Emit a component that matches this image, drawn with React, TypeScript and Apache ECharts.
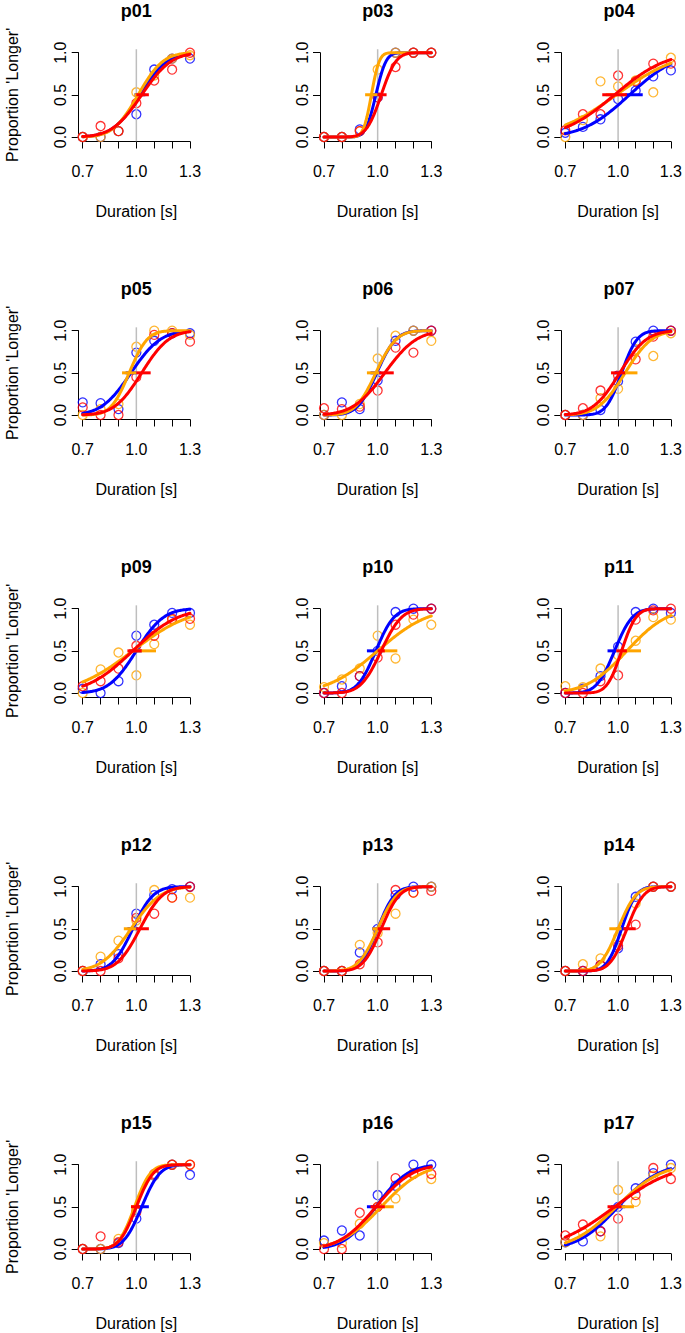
import React, { useEffect, useRef } from "react";
import * as echarts from "echarts";

// ---------- data ----------
const participants = ["p01", "p03", "p04", "p05", "p06", "p07", "p09", "p10", "p11", "p12", "p13", "p14", "p15", "p16", "p17"];
const durations = [0.7, 0.8, 0.9, 1.0, 1.1, 1.2, 1.3];
const xTickLabels = ["0.7", "1.0", "1.3"];
const yTickLabels = ["0.0", "0.5", "1.0"];
const referenceDuration = 1.0;
const xAxisTitle = "Duration [s]";
const yAxisTitle = "Proportion 'Longer'";

// observed proportions "longer" at each duration
const blueProps = [
  [0, 0, 0.07, 0.27, 0.8, 0.93, 0.93],
  [0, 0, 0.09, 0.47, 1, 1, 1],
  [0.05, 0.12, 0.21, 0.45, 0.55, 0.72, 0.79],
  [0.15, 0.14, 0.07, 0.74, 0.88, 0.97, 0.97],
  [0, 0.15, 0.07, 0.41, 0.88, 1, 1],
  [0, 0, 0.06, 0.4, 0.87, 1, 1],
  [0.05, 0, 0.14, 0.68, 0.81, 0.95, 0.95],
  [0, 0.08, 0.2, 0.5, 0.96, 1, 1],
  [0, 0.05, 0.2, 0.55, 0.96, 1, 0.95],
  [0, 0.08, 0.2, 0.68, 0.9, 0.97, 1],
  [0, 0, 0.22, 0.5, 0.9, 1, 1],
  [0, 0, 0.07, 0.27, 0.88, 1, 1],
  [0, 0, 0.07, 0.36, 0.87, 1, 0.88],
  [0.1, 0.22, 0.16, 0.64, 0.75, 1, 1],
  [0.08, 0.09, 0.21, 0.5, 0.72, 0.9, 1],
];
const orangeProps = [
  [0, 0, 0.07, 0.53, 0.73, 0.93, 0.97],
  [0, 0, 0.07, 0.8, 1, 1, 1],
  [0, 0.2, 0.66, 0.6, 0.67, 0.53, 0.94],
  [0, 0.07, 0.13, 0.81, 1, 1, 0.95],
  [0, 0, 0.13, 0.67, 0.94, 1, 0.88],
  [0, 0, 0.2, 0.31, 0.78, 0.7, 0.97],
  [0, 0.28, 0.48, 0.21, 0.58, 0.87, 0.81],
  [0.07, 0.16, 0.29, 0.68, 0.41, 0.87, 0.81],
  [0.08, 0.07, 0.29, 0.45, 0.62, 0.9, 0.87],
  [0, 0.17, 0.36, 0.6, 0.96, 0.87, 0.87],
  [0, 0, 0.31, 0.45, 0.68, 0.93, 1],
  [0, 0.08, 0.15, 0.4, 0.8, 1, 1],
  [0, 0, 0.12, 0.47, 0.87, 1, 1],
  [0.07, 0.07, 0.3, 0.5, 0.6, 0.9, 0.83],
  [0.08, 0.2, 0.15, 0.7, 0.56, 0.87, 0.96],
];
const redProps = [
  [0, 0.13, 0.07, 0.4, 0.67, 0.8, 1],
  [0, 0, 0.07, 0.47, 0.83, 1, 1],
  [0.08, 0.27, 0.27, 0.73, 0.66, 0.87, 0.87],
  [0.09, 0, 0, 0.45, 0.95, 0.97, 0.87],
  [0.08, 0.07, 0.1, 0.29, 0.8, 0.74, 1],
  [0, 0.08, 0.29, 0.47, 0.66, 0.93, 1],
  [0.08, 0.14, 0.29, 0.56, 0.68, 0.88, 0.88],
  [0, 0, 0.2, 0.42, 0.81, 0.93, 1],
  [0, 0, 0.14, 0.21, 0.87, 0.98, 1],
  [0, 0, 0.15, 0.63, 0.68, 0.87, 1],
  [0, 0, 0.08, 0.34, 0.96, 0.93, 0.95],
  [0, 0, 0.07, 0.3, 0.55, 1, 1],
  [0, 0.15, 0.08, 0.44, 0.89, 1, 1],
  [0, 0, 0.43, 0.5, 0.84, 0.89, 0.89],
  [0.16, 0.29, 0.21, 0.36, 0.64, 0.96, 0.83],
];

// fitted cumulative-Gaussian parameters [PSE, SD]
const blueFit = [
  [1.02, 0.12], [0.99, 0.045], [1.065, 0.21], [0.97, 0.13], [0.995, 0.085],
  [1.02, 0.07], [1.0, 0.12], [0.99, 0.08], [0.98, 0.08], [0.98, 0.09],
  [1.0, 0.075], [1.02, 0.065], [1.03, 0.08], [0.99, 0.14], [1.0, 0.18],
];
const orangeFit = [
  [1.01, 0.11], [0.965, 0.035], [0.99, 0.27], [0.96, 0.08], [0.99, 0.09],
  [1.04, 0.12], [0.98, 0.25], [1.0, 0.22], [1.05, 0.18], [0.97, 0.13],
  [1.0, 0.085], [1.0, 0.08], [0.99, 0.07], [1.02, 0.18], [0.99, 0.2],
];
const redFit = [
  [1.03, 0.13], [1.02, 0.065], [0.98, 0.23], [1.03, 0.12], [1.04, 0.14],
  [1.01, 0.12], [0.98, 0.2], [1.02, 0.09], [1.02, 0.065], [1.02, 0.1],
  [1.02, 0.08], [1.05, 0.075], [1.0, 0.075], [0.99, 0.16], [0.98, 0.26],
];

// PSE interval segments drawn at 0.5 [low, high]
const blueSeg = [
  [0.99, 1.05], [0.97, 1.01], [1.04, 1.14], [0.94, 1.0], [0.96, 1.02],
  [0.98, 1.03], [0.96, 1.03], [0.94, 1.0], [0.94, 0.99], [0.95, 1.01],
  [0.97, 1.02], [0.99, 1.05], [1.0, 1.07], [0.94, 1.0], [0.96, 1.04],
];
const orangeSeg = [
  [0.99, 1.04], [0.93, 1.0], [0.93, 1.04], [0.92, 1.0], [0.94, 1.01],
  [1.04, 1.11], [0.96, 1.11], [1.0, 1.11], [1.02, 1.13], [0.93, 1.0],
  [0.97, 1.03], [0.95, 1.02], [0.97, 1.01], [0.99, 1.09], [1.0, 1.09],
];
const redSeg = [
  [1.0, 1.07], [1.0, 1.05], [0.91, 1.05], [1.0, 1.08], [1.01, 1.09],
  [0.96, 1.04], [0.95, 1.03], [1.0, 1.04], [0.99, 1.05], [1.0, 1.07],
  [1.0, 1.07], [1.03, 1.1], [0.97, 1.02], [0.96, 1.04], [0.94, 1.02],
];

const conditions = [
  { color: "#0000FF", props: blueProps, fit: blueFit, seg: blueSeg },
  { color: "#FFA500", props: orangeProps, fit: orangeFit, seg: orangeSeg },
  { color: "#FF0000", props: redProps, fit: redFit, seg: redSeg },
];

// ---------- layout ----------
const COL_X = [82.7, 324, 565.3];
const ROW_Y0 = 52.7;
const ROW_PITCH = 278;
const PLOT_W = 107.3;
const PLOT_H = 84.3;
const FONT = "'Liberation Sans', Arial, sans-serif";

function erf(x: number) {
  const s = x < 0 ? -1 : 1;
  const ax = Math.abs(x);
  const t = 1 / (1 + 0.3275911 * ax);
  const y = 1 - ((((1.061405429 * t - 1.453152027) * t + 1.421413741) * t - 0.284496736) * t + 0.254829592) * t * Math.exp(-ax * ax);
  return s * y;
}
function psychometric(x: number, mu: number, sd: number) {
  return 0.5 * (1 + erf((x - mu) / (sd * Math.SQRT2)));
}

function buildOption() {
  const grids: any[] = [];
  const xAxes: any[] = [];
  const yAxes: any[] = [];
  const series: any[] = [];
  const graphics: any[] = [];

  participants.forEach((name, i) => {
    const col = i % 3;
    const row = Math.floor(i / 3);
    const left = COL_X[col];
    const top = ROW_Y0 + row * ROW_PITCH;
    grids.push({ left, top, width: PLOT_W, height: PLOT_H, containLabel: false });
    xAxes.push({
      type: "value",
      gridIndex: i,
      min: 0.7,
      max: 1.3,
      interval: 0.1,
      offset: 4.5,
      name: xAxisTitle,
      nameLocation: "middle",
      nameGap: 62,
      nameTextStyle: { fontSize: 16, color: "#000", fontFamily: FONT },
      axisLine: { show: true, onZero: false, lineStyle: { color: "#000", width: 1 } },
      axisTick: { show: true, length: 7, lineStyle: { color: "#000", width: 1 } },
      axisLabel: {
        fontSize: 16,
        color: "#000",
        fontFamily: FONT,
        margin: 22,
        formatter: (v: number) => {
          const s = v.toFixed(1);
          return xTickLabels.indexOf(s) >= 0 ? s : "";
        },
      },
      splitLine: { show: false },
    });
    yAxes.push({
      type: "value",
      gridIndex: i,
      min: 0,
      max: 1,
      interval: 0.5,
      offset: 4,
      name: col === 0 ? yAxisTitle : "",
      nameLocation: "middle",
      nameRotate: 90,
      nameGap: 58,
      nameTextStyle: { fontSize: 16, color: "#000", fontFamily: FONT },
      axisLine: { show: true, onZero: false, lineStyle: { color: "#000", width: 1 } },
      axisTick: { show: true, length: 7, lineStyle: { color: "#000", width: 1 } },
      axisLabel: {
        fontSize: 16,
        color: "#000",
        fontFamily: FONT,
        rotate: 90,
        margin: 10,
        formatter: (v: number) => {
          const s = v.toFixed(1);
          return yTickLabels.indexOf(s) >= 0 ? s : "";
        },
      },
      splitLine: { show: false },
    });

    graphics.push({
      type: "text",
      x: left + PLOT_W / 2,
      y: top - 42,
      style: {
        text: name,
        fontSize: 18,
        fontWeight: "bold",
        fontFamily: FONT,
        fill: "#000",
        align: "center",
        verticalAlign: "middle",
      },
    });

    // reference line at 1.0 s
    series.push({
      type: "line",
      xAxisIndex: i,
      yAxisIndex: i,
      data: [[referenceDuration, -0.05], [referenceDuration, 1.04]],
      symbol: "none",
      clip: false,
      silent: true,
      lineStyle: { color: "#BEBEBE", width: 1.5 },
    });

    conditions.forEach((c) => {
      series.push({
        type: "scatter",
        xAxisIndex: i,
        yAxisIndex: i,
        data: durations.map((d, k) => [d, c.props[i][k]]),
        symbol: "circle",
        symbolSize: 9,
        clip: false,
        silent: true,
        itemStyle: { color: "rgba(0,0,0,0)", borderColor: c.color, borderWidth: 1.3 },
      });
      const [mu, sd] = c.fit[i];
      const curve: number[][] = [];
      for (let k = 0; k <= 120; k++) {
        const x = 0.7 + k * 0.005;
        curve.push([x, psychometric(x, mu, sd)]);
      }
      series.push({
        type: "line",
        xAxisIndex: i,
        yAxisIndex: i,
        data: curve,
        symbol: "none",
        clip: false,
        silent: true,
        lineStyle: { color: c.color, width: 3, cap: "round", join: "round" },
      });
      series.push({
        type: "line",
        xAxisIndex: i,
        yAxisIndex: i,
        data: [[c.seg[i][0], 0.5], [c.seg[i][1], 0.5]],
        symbol: "none",
        clip: false,
        silent: true,
        lineStyle: { color: c.color, width: 3 },
      });
    });
  });

  return {
    animation: false,
    backgroundColor: "#fff",
    grid: grids,
    xAxis: xAxes,
    yAxis: yAxes,
    series,
    graphic: graphics,
  };
}

export default function App() {
  const ref = useRef<HTMLDivElement>(null);
  useEffect(() => {
    if (!ref.current) return;
    const chart = echarts.init(ref.current, undefined, { renderer: "svg" });
    chart.setOption(buildOption() as any);
    return () => chart.dispose();
  }, []);
  return (
    <div
      ref={ref}
      style={{ position: "absolute", left: 0, top: 0, width: 685, height: 1333, background: "#fff" }}
    />
  );
}
